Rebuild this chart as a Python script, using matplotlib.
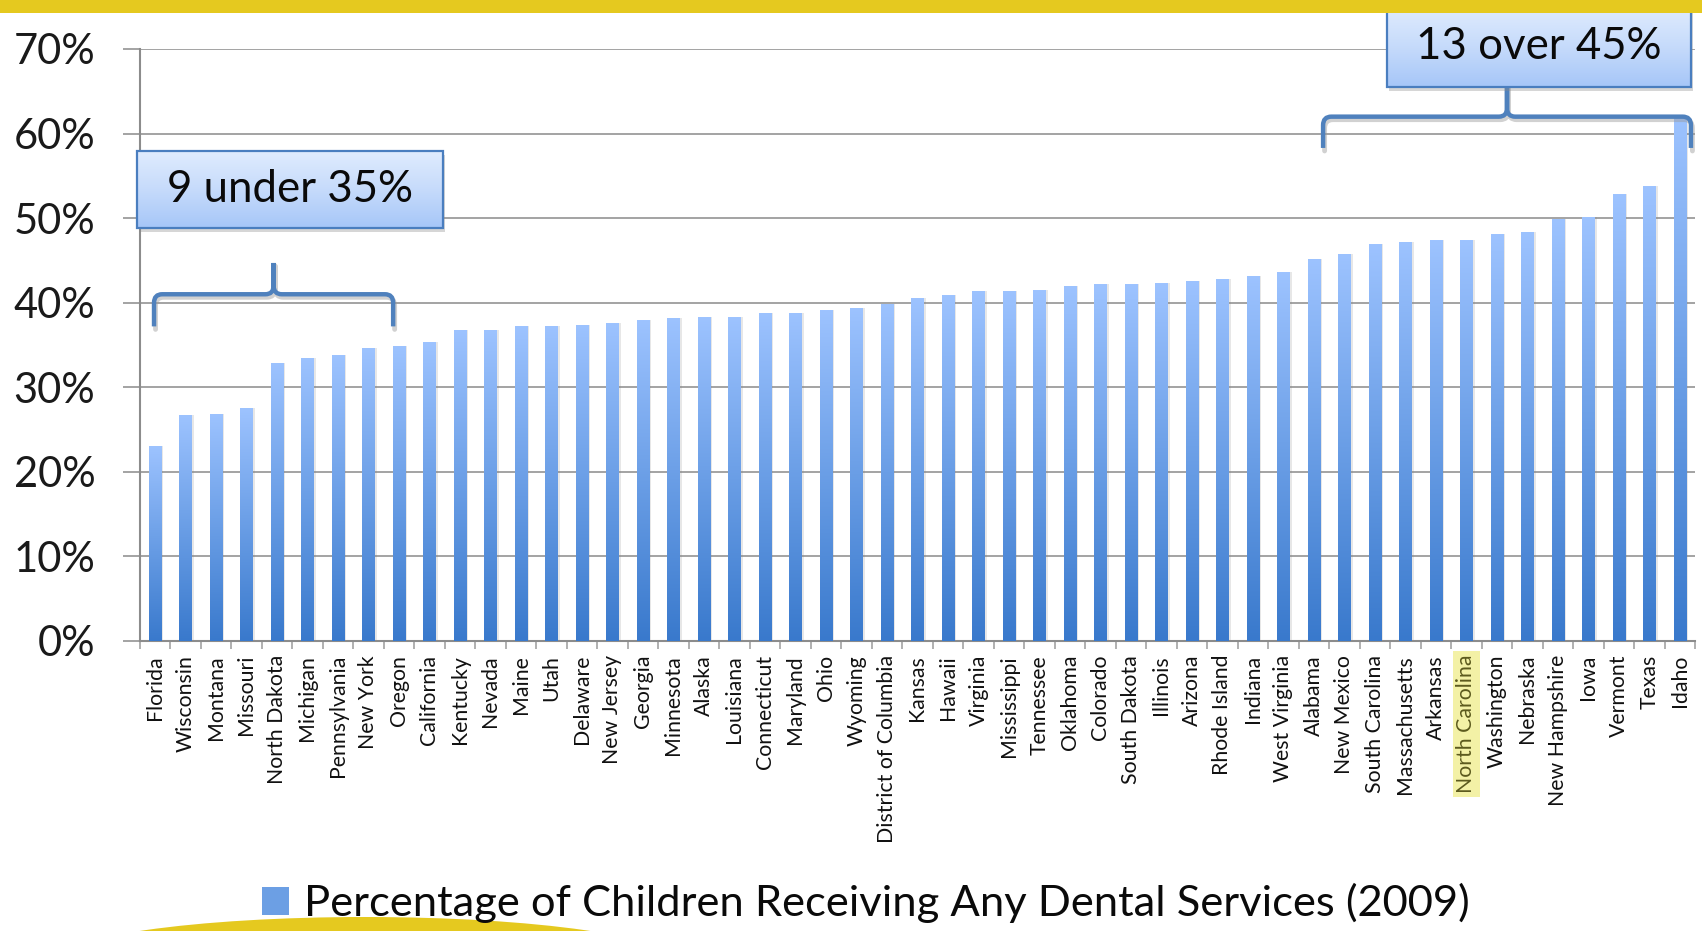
import numpy as np
import matplotlib
matplotlib.use("Agg")
import matplotlib.pyplot as plt
from matplotlib.patches import Rectangle, Ellipse, PathPatch, Patch
from matplotlib.path import Path
from matplotlib.colors import LinearSegmentedColormap
from matplotlib.transforms import offset_copy

# ---- data -----------------------------------------------------------------
states = [
    "Florida", "Wisconsin", "Montana", "Missouri", "North Dakota", "Michigan",
    "Pennsylvania", "New York", "Oregon", "California", "Kentucky", "Nevada",
    "Maine", "Utah", "Delaware", "New Jersey", "Georgia", "Minnesota", "Alaska",
    "Louisiana", "Connecticut", "Maryland", "Ohio", "Wyoming",
    "District of Columbia", "Kansas", "Hawaii", "Virginia", "Mississippi",
    "Tennessee", "Oklahoma", "Colorado", "South Dakota", "Illinois", "Arizona",
    "Rhode Island", "Indiana", "West Virginia", "Alabama", "New Mexico",
    "South Carolina", "Massachusetts", "Arkansas", "North Carolina",
    "Washington", "Nebraska", "New Hampshire", "Iowa", "Vermont", "Texas", "Idaho",
]
pct = [
    23.0, 26.7, 26.9, 27.5, 32.9, 33.5, 33.8, 34.7, 34.9, 35.3, 36.8, 36.8,
    37.2, 37.3, 37.4, 37.6, 37.9, 38.2, 38.3, 38.3, 38.8, 38.8, 39.1, 39.4,
    39.9, 40.5, 40.9, 41.4, 41.4, 41.5, 42.0, 42.2, 42.2, 42.3, 42.6, 42.8,
    43.2, 43.6, 45.2, 45.8, 46.9, 47.2, 47.4, 47.4, 48.1, 48.4, 49.9, 50.1,
    52.8, 53.8, 62.1,
]
y_ticks = [0, 10, 20, 30, 40, 50, 60, 70]
highlight_state = "North Carolina"
series_label = "Percentage of Children Receiving Any Dental Services (2009)"
low_cut, high_cut = 35, 45

# ---- style ----------------------------------------------------------------
plt.rcParams["font.family"] = ["Lato", "DejaVu Sans"]
YELLOW = "#E5C91F"
BRACE_BLUE = "#4F81BD"
bar_cmap = LinearSegmentedColormap.from_list("bar", ["#3979CC", "#6A9EE6", "#9DC3FF"])
box_cmap = LinearSegmentedColormap.from_list("box", ["#A6C6F8", "#C6DBFB", "#E0ECFE"])
grad = np.linspace(0, 1, 256).reshape(-1, 1)

W, H, DPI = 1702, 931, 100
fig = plt.figure(figsize=(W / DPI, H / DPI), dpi=DPI)
fig.patch.set_facecolor("white")

# decorative slide elements
fig.patches.append(Rectangle((0, 1 - 13 / H), 1, 13 / H, transform=fig.transFigure,
                             facecolor=YELLOW, edgecolor="none", zorder=0))
fig.patches.append(Ellipse((365 / W, 1 - 962 / H), 622 / W, 90 / H, transform=fig.transFigure,
                           facecolor=YELLOW, edgecolor="none", zorder=0))

ax = fig.add_axes([139.7 / W, (H - 641) / H, (1695.2 - 139.7) / W, (641 - 49) / H])
x = np.arange(len(states))

# soft shadow to the right of each bar
ax.bar(x, pct, width=0.39, color="#7f7f7f", alpha=0.18, zorder=2.5,
       transform=offset_copy(ax.transData, fig=fig, x=2.5, y=0, units="dots"))

# gradient-filled bars
bars = ax.bar(x, pct, width=0.40, color="none", edgecolor="none", zorder=3)
for b in bars:
    x0, w, h = b.get_x(), b.get_width(), b.get_height()
    im = ax.imshow(grad, extent=(x0, x0 + w, 0, h), origin="lower", cmap=bar_cmap,
                   aspect="auto", zorder=3, interpolation="bilinear")
    im.set_clip_path(b)

# axes styling
for s in ("top", "right"):
    ax.spines[s].set_visible(False)
for s in ("left", "bottom"):
    ax.spines[s].set_color("#8C8C8C")
    ax.spines[s].set_linewidth(1.5)
ax.set_axisbelow(True)
ax.yaxis.grid(True, color="#A3A3A3", linewidth=1.4)
ax.set_yticks(y_ticks)
ax.set_yticklabels([f"{v}%" for v in y_ticks])
ax.tick_params(axis="y", length=12, width=1.4, color="#A3A3A3", pad=20,
               labelsize=30, labelcolor="#1A1A1A")
ax.set_xticks(x)
ax.set_xticklabels(states, rotation=90, ha="center", va="top")
ax.set_xticks(np.arange(-0.5, len(states), 1), minor=True)
ax.tick_params(axis="x", which="major", length=0, pad=10, labelsize=15.3, labelcolor="#111111")
ax.tick_params(axis="x", which="minor", length=6, width=1.2, color="#A3A3A3")

for lbl in ax.get_xticklabels():
    if lbl.get_text() == highlight_state:
        lbl.set_color("#5C5A1E")
        lbl.set_bbox(dict(facecolor="#F3F1A6", edgecolor="none", pad=2.5))


# ---- callouts -------------------------------------------------------------
def brace(xl, xr, y_line, y_tip, y_peak, rx=0.27, ry=1.0):
    xm = (xl + xr) / 2
    verts = [
        (xl, y_tip), (xl, y_line - ry), (xl, y_line), (xl + rx, y_line),
        (xm - rx, y_line), (xm, y_line), (xm, y_line + ry), (xm, y_peak),
        (xr, y_tip), (xr, y_line - ry), (xr, y_line), (xr - rx, y_line),
        (xm + rx, y_line), (xm, y_line), (xm, y_line + ry), (xm, y_peak),
    ]
    codes = [Path.MOVETO, Path.LINETO, Path.CURVE3, Path.CURVE3,
             Path.LINETO, Path.CURVE3, Path.CURVE3, Path.LINETO] * 2
    path = Path(verts, codes)
    shadow = PathPatch(path, facecolor="none", edgecolor="#9a9a9a", lw=3.5, alpha=0.45,
                       capstyle="round", joinstyle="round", zorder=6, clip_on=False,
                       transform=offset_copy(ax.transData, fig=fig, x=1.5, y=-3, units="dots"))
    ax.add_patch(shadow)
    ax.add_patch(PathPatch(path, facecolor="none", edgecolor=BRACE_BLUE, lw=3.2,
                           capstyle="butt", joinstyle="round", zorder=7, clip_on=False))


def callout_box(x0, x1, y0, y1, text):
    ax.add_patch(Rectangle((x0, y0), x1 - x0, y1 - y0, facecolor="#8a8a8a", edgecolor="none",
                           alpha=0.35, zorder=7.5, clip_on=False,
                           transform=offset_copy(ax.transData, fig=fig, x=2, y=-4, units="dots")))
    im = ax.imshow(grad, extent=(x0, x1, y0, y1), origin="lower", cmap=box_cmap,
                   aspect="auto", zorder=8, interpolation="bilinear")
    im.set_clip_on(False)
    ax.add_patch(Rectangle((x0, y0), x1 - x0, y1 - y0, facecolor="none",
                           edgecolor="#4A7EBF", lw=1.6, zorder=8.5, clip_on=False))
    ax.text((x0 + x1) / 2, (y0 + y1) / 2, text, ha="center", va="center",
            fontsize=31.5, color="#0A0A0A", zorder=9, clip_on=False)


pct_arr = np.array(pct)
low_idx = np.where(pct_arr < low_cut)[0]
high_idx = np.where(pct_arr > high_cut)[0]

brace(low_idx[0] - 0.03, low_idx[-1] - 0.19, 41.0, 37.2, 44.7)
callout_box(-0.59, 9.45, 48.8, 57.9, f"{len(low_idx)} under {low_cut}%")

brace(high_idx[0] + 0.3, high_idx[-1] + 0.36, 62.0, 58.3, 65.6)
callout_box(40.4, 50.36, 65.5, 75.0, f"{len(high_idx)} over {high_cut}%")

ax.set_xlim(-0.5, len(states) - 0.5)
ax.set_ylim(0, 70)

# ---- legend ---------------------------------------------------------------
leg = fig.legend(handles=[Patch(facecolor="#6C9FE4", edgecolor="none")], labels=[series_label],
                 loc="center", bbox_to_anchor=(866 / W, 28 / H), frameon=False,
                 fontsize=31.3, handlelength=0.62, handleheight=0.62, handletextpad=0.35)
for t in leg.get_texts():
    t.set_color("#0A0A0A")

fig.canvas.draw()
hb = leg.legend_handles[0].get_window_extent().transformed(fig.transFigure.inverted())
hax = fig.add_axes(hb.bounds)
hax.imshow(grad, origin="lower", cmap=bar_cmap, aspect="auto")
hax.axis("off")

fig.savefig("out.png", dpi=DPI, facecolor="white")
